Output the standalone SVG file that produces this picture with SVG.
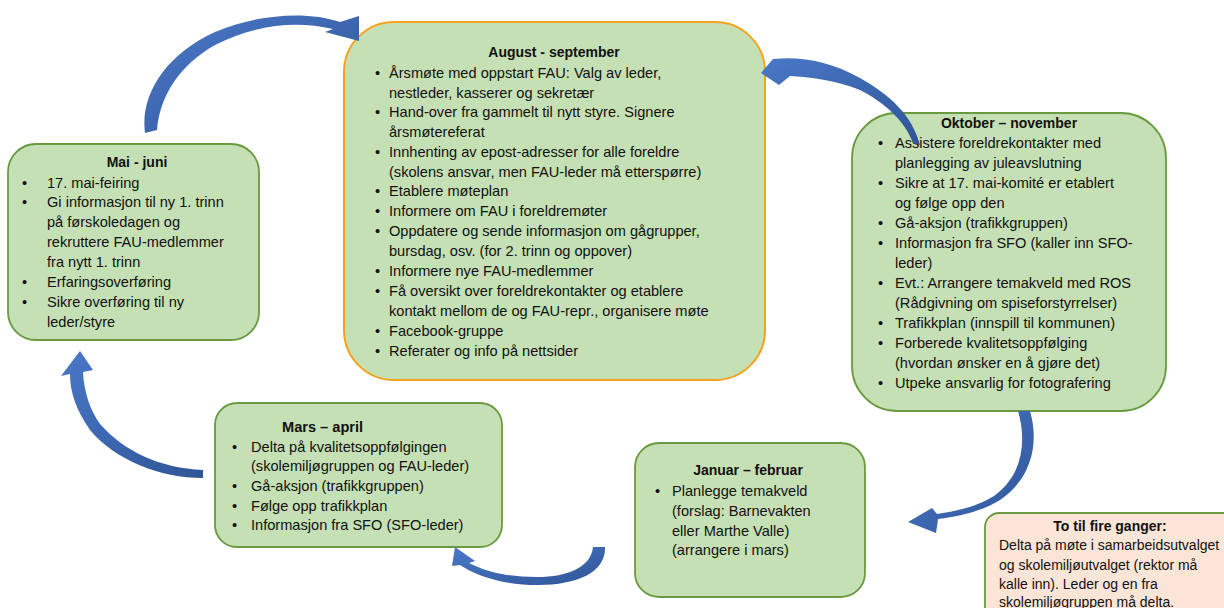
<svg xmlns="http://www.w3.org/2000/svg" width="1224" height="608" viewBox="0 0 1224 608">
<defs>
<linearGradient id="ag" x1="0" y1="0" x2="1" y2="1">
<stop offset="0" stop-color="#4A78C8"/>
<stop offset="1" stop-color="#2F5597"/>
</linearGradient>
<style>
.box{fill:#C5E0B4;stroke:#6A9A40;stroke-width:1.8}
.aug{fill:#C5E0B4;stroke:#F5A31F;stroke-width:2}
.peach{fill:#FBE5D6;stroke:#6A9A40;stroke-width:1.8}
.arr{fill:url(#ag);stroke:none}
text{font-family:"Liberation Sans",Arial,sans-serif;font-size:14.6px;fill:#111}
.t{font-weight:bold;text-anchor:middle;font-size:14px}
.s{font-size:14px}
</style>
</defs>
<rect width="1224" height="608" fill="#fff"/>

<g id="aug">
<rect class="aug" x="344" y="22" width="421" height="358" rx="50"/>
<text class="t" x="554" y="57">August - september</text>
<g>
<text x="375" y="78">•</text><text x="389" y="78">Årsmøte med oppstart FAU: Valg av leder,</text>
<text x="389" y="98">nestleder, kasserer og sekretær</text>
<text x="375" y="117">•</text><text x="389" y="117">Hand-over fra gammelt til nytt styre. Signere</text>
<text x="389" y="137">årsmøtereferat</text>
<text x="375" y="157">•</text><text x="389" y="157">Innhenting av epost-adresser for alle foreldre</text>
<text x="389" y="177">(skolens ansvar, men FAU-leder må etterspørre)</text>
<text x="375" y="196">•</text><text x="389" y="196">Etablere møteplan</text>
<text x="375" y="216">•</text><text x="389" y="216">Informere om FAU i foreldremøter</text>
<text x="375" y="236">•</text><text x="389" y="236">Oppdatere og sende informasjon om gågrupper,</text>
<text x="389" y="256">bursdag, osv. (for 2. trinn og oppover)</text>
<text x="375" y="276">•</text><text x="389" y="276">Informere nye FAU-medlemmer</text>
<text x="375" y="296">•</text><text x="389" y="296">Få oversikt over foreldrekontakter og etablere</text>
<text x="389" y="316">kontakt mellom de og FAU-repr., organisere møte</text>
<text x="375" y="336">•</text><text x="389" y="336">Facebook-gruppe</text>
<text x="375" y="356">•</text><text x="389" y="356">Referater og info på nettsider</text>
</g>
</g>

<g id="mai">
<rect class="box" x="8" y="144" width="251" height="196" rx="28"/>
<text class="t" x="137" y="167">Mai - juni</text>
<text x="22" y="188">•</text><text x="47" y="188">17. mai-feiring</text>
<text x="22" y="207">•</text><text x="47" y="207">Gi informasjon til ny 1. trinn</text>
<text x="47" y="227">på førskoledagen og</text>
<text x="47" y="247">rekruttere FAU-medlemmer</text>
<text x="47" y="267">fra nytt 1. trinn</text>
<text x="22" y="287">•</text><text x="47" y="287">Erfaringsoverføring</text>
<text x="22" y="307">•</text><text x="47" y="307">Sikre overføring til ny</text>
<text x="47" y="327">leder/styre</text>
</g>

<g id="okt">
<rect class="box" x="852" y="113" width="314" height="298" rx="45"/>
<text class="t" x="1009" y="128">Oktober – november</text>
<text x="878" y="148">•</text><text x="895" y="148">Assistere foreldrekontakter med</text>
<text x="895" y="168">planlegging av juleavslutning</text>
<text x="878" y="188">•</text><text x="895" y="188">Sikre at 17. mai-komité er etablert</text>
<text x="895" y="208">og følge opp den</text>
<text x="878" y="228">•</text><text x="895" y="228">Gå-aksjon (trafikkgruppen)</text>
<text x="878" y="248">•</text><text x="895" y="248">Informasjon fra SFO (kaller inn SFO-</text>
<text x="895" y="268">leder)</text>
<text x="878" y="288">•</text><text x="895" y="288">Evt.: Arrangere temakveld med ROS</text>
<text x="895" y="308">(Rådgivning om spiseforstyrrelser)</text>
<text x="878" y="328">•</text><text x="895" y="328">Trafikkplan (innspill til kommunen)</text>
<text x="878" y="348">•</text><text x="895" y="348">Forberede kvalitetsoppfølging</text>
<text x="895" y="368">(hvordan ønsker en å gjøre det)</text>
<text x="878" y="388">•</text><text x="895" y="388">Utpeke ansvarlig for fotografering</text>
</g>

<g id="mars">
<rect class="box" x="215" y="403" width="287" height="144" rx="22"/>
<text x="282" y="432" font-weight="bold" font-size="14">Mars – april</text>
<text x="232" y="452">•</text><text x="251" y="452">Delta på kvalitetsoppfølgingen</text>
<text x="251" y="471">(skolemiljøgruppen og FAU-leder)</text>
<text x="232" y="491">•</text><text x="251" y="491">Gå-aksjon (trafikkgruppen)</text>
<text x="232" y="511">•</text><text x="251" y="511">Følge opp trafikkplan</text>
<text x="232" y="530">•</text><text x="251" y="530">Informasjon fra SFO (SFO-leder)</text>
</g>

<g id="jan">
<rect class="box" x="635" y="443" width="230" height="154" rx="24"/>
<text class="t" x="748" y="475">Januar – februar</text>
<text x="655" y="496">•</text><text x="672" y="496">Planlegge temakveld</text>
<text x="672" y="516">(forslag: Barnevakten</text>
<text x="672" y="536">eller Marthe Valle)</text>
<text x="672" y="555">(arrangere i mars)</text>
</g>

<g id="totilfire">
<rect class="peach" x="985" y="513" width="262" height="120" rx="14"/>
<text class="t" x="1110" y="531">To til fire ganger:</text>
<text class="s" x="999" y="550">Delta på møte i samarbeidsutvalget</text>
<text class="s" x="999" y="570">og skolemiljøutvalget (rektor må</text>
<text class="s" x="999" y="589">kalle inn). Leder og en fra</text>
<text class="s" x="999" y="607">skolemiljøgruppen må delta.</text>
</g>

<g id="connectors">
<path class="arr" d="M145,133 C140,95 165,55 215,32 C255,15 305,10 340,22 L359,16 L359,41 L325,32 L333,29 C295,20 255,25 215,45 C180,65 160,95 157,130 Z"/>
<path class="arr" d="M761,73 L773,59 C800,56 830,61 860,78 C890,95 912,115 920,145 L913,143 C905,121 885,103 860,90 C835,80 810,77 790,76 L779,85 Z"/>
<path class="arr" d="M1018,411 L1030,411 C1040,445 1030,480 1000,500 C980,512 960,516 938,519 L936,533 L908,522 L932,508 L937,514 C958,511 978,506 994,496 C1020,478 1028,445 1018,411 Z"/>
<path class="arr" d="M605,547 C606,572 578,585 538,585 C505,585 478,577 460,565 L452,566 L455,547 L475,561 L469,563 C488,573 510,577 537,577 C568,577 591,567 593,547 Z"/>
<path class="arr" d="M203,478 C160,478 115,460 90,430 C76,410 70,392 70,374 L61,376 L80,351 L93,370 L83,372 C84,392 90,410 100,424 C125,452 160,468 203,470 Z"/>
</g>
</svg>
